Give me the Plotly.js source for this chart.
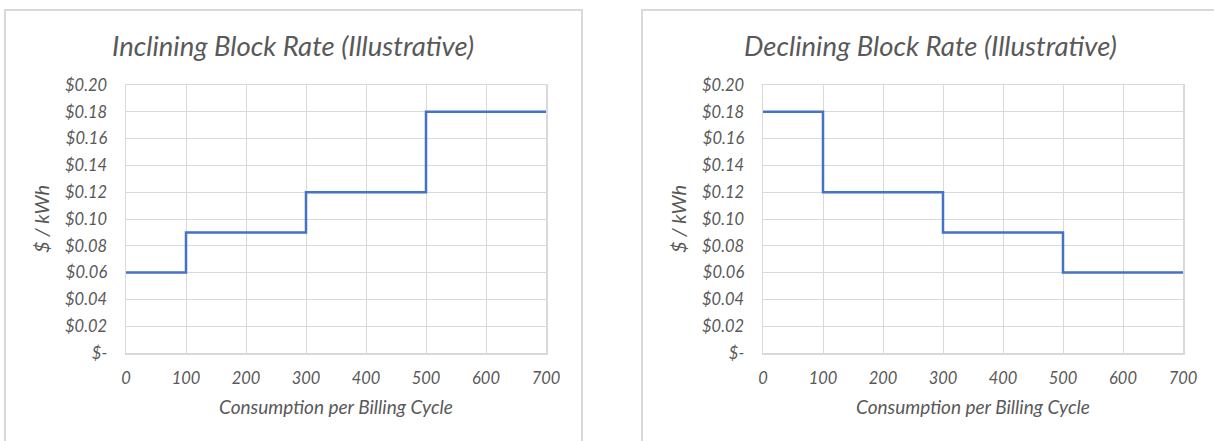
<!DOCTYPE html>
<html>
<head>
<meta charset="utf-8">
<script src="https://cdn.plot.ly/plotly-3.0.1.min.js"></script>
<style>
html,body{margin:0;padding:0;background:#fff;}
#chart{width:1214px;height:441px;}
</style>
</head>
<body>
<div id="chart"></div>
<script>
// Data
const consumption = [0, 100, 300, 500, 700];
const incliningRate = [0.06, 0.09, 0.12, 0.18, 0.18];
const decliningRate = [0.18, 0.12, 0.09, 0.06, 0.06];
const yTickVals = [0, 0.02, 0.04, 0.06, 0.08, 0.10, 0.12, 0.14, 0.16, 0.18, 0.20];
const yTickText = ['$-', '$0.02', '$0.04', '$0.06', '$0.08', '$0.10', '$0.12', '$0.14', '$0.16', '$0.18', '$0.20'];
const xTickVals = [0, 100, 200, 300, 400, 500, 600, 700];
const titles = ['Inclining Block Rate (Illustrative)', 'Declining Block Rate (Illustrative)'];
const xTitle = 'Consumption per Billing Cycle';
const yTitle = '$ / kWh';

const W = 1214, H = 441;
const FONT = 'Lato, "Open Sans", sans-serif';
const TXT = '#595959';
const GRID = '#d9d9d9';
const LINE = '#4472C4';

const px = x => x / W;
const py = y => 1 - y / H;

const traces = [
  {x: consumption, y: incliningRate, xaxis: 'x', yaxis: 'y', mode: 'lines',
   line: {shape: 'hv', color: LINE, width: 2.5}, hoverinfo: 'skip'},
  {x: consumption, y: decliningRate, xaxis: 'x2', yaxis: 'y2', mode: 'lines',
   line: {shape: 'hv', color: LINE, width: 2.5}, hoverinfo: 'skip'}
];

function xAxis(domain, anchor) {
  return {
    domain: domain, anchor: anchor, range: [0, 700], tickvals: xTickVals,
    showgrid: true, gridcolor: GRID, gridwidth: 1, zeroline: false,
    showline: true, linecolor: GRID, linewidth: 1.5, mirror: true,
    ticks: '', ticklabelstandoff: 10,
    tickfont: {family: FONT, size: 16.5, color: TXT, style: 'italic'},
    title: {text: xTitle, font: {family: FONT, size: 19, color: TXT, style: 'italic'}, standoff: 13},
    fixedrange: true
  };
}
function yAxis(domain, anchor) {
  return {
    domain: domain, anchor: anchor, range: [0, 0.2], tickvals: yTickVals, ticktext: yTickText,
    showgrid: true, gridcolor: GRID, gridwidth: 1, zeroline: false,
    showline: true, linecolor: GRID, linewidth: 1.5, mirror: true,
    ticks: '', ticklabelstandoff: 14,
    tickfont: {family: FONT, size: 16.5, color: TXT, style: 'italic'},
    title: {text: yTitle, font: {family: FONT, size: 20, color: TXT, style: 'italic'}, standoff: 10},
    fixedrange: true
  };
}

const yDom = [py(353), py(85)];

const layout = {
  width: W, height: H,
  margin: {l: 0, r: 0, t: 0, b: 0},
  paper_bgcolor: '#fff', plot_bgcolor: '#fff',
  showlegend: false,
  xaxis: xAxis([px(126), px(546)], 'y'),
  yaxis: yAxis(yDom, 'x'),
  xaxis2: xAxis([px(763), px(1183)], 'y2'),
  yaxis2: yAxis(yDom, 'x2'),
  annotations: [
    {text: titles[0], xref: 'paper', yref: 'paper', x: px(293), y: py(45), showarrow: false,
     xanchor: 'center', yanchor: 'middle', font: {family: FONT, size: 27.5, color: TXT, style: 'italic'}},
    {text: titles[1], xref: 'paper', yref: 'paper', x: px(930), y: py(45), showarrow: false,
     xanchor: 'center', yanchor: 'middle', font: {family: FONT, size: 27.5, color: TXT, style: 'italic'}}
  ],
  shapes: [
    {type: 'path', xref: 'paper', yref: 'paper',
     path: `M ${px(5)} ${py(445)} L ${px(5)} ${py(10)} L ${px(582)} ${py(10)} L ${px(582)} ${py(445)}`,
     line: {color: GRID, width: 2}},
    {type: 'path', xref: 'paper', yref: 'paper',
     path: `M ${px(642)} ${py(445)} L ${px(642)} ${py(10)} L ${px(1220)} ${py(10)}`,
     line: {color: GRID, width: 2}}
  ]
};

Plotly.newPlot('chart', traces, layout, {staticPlot: true, displayModeBar: false});
</script>
</body>
</html>
